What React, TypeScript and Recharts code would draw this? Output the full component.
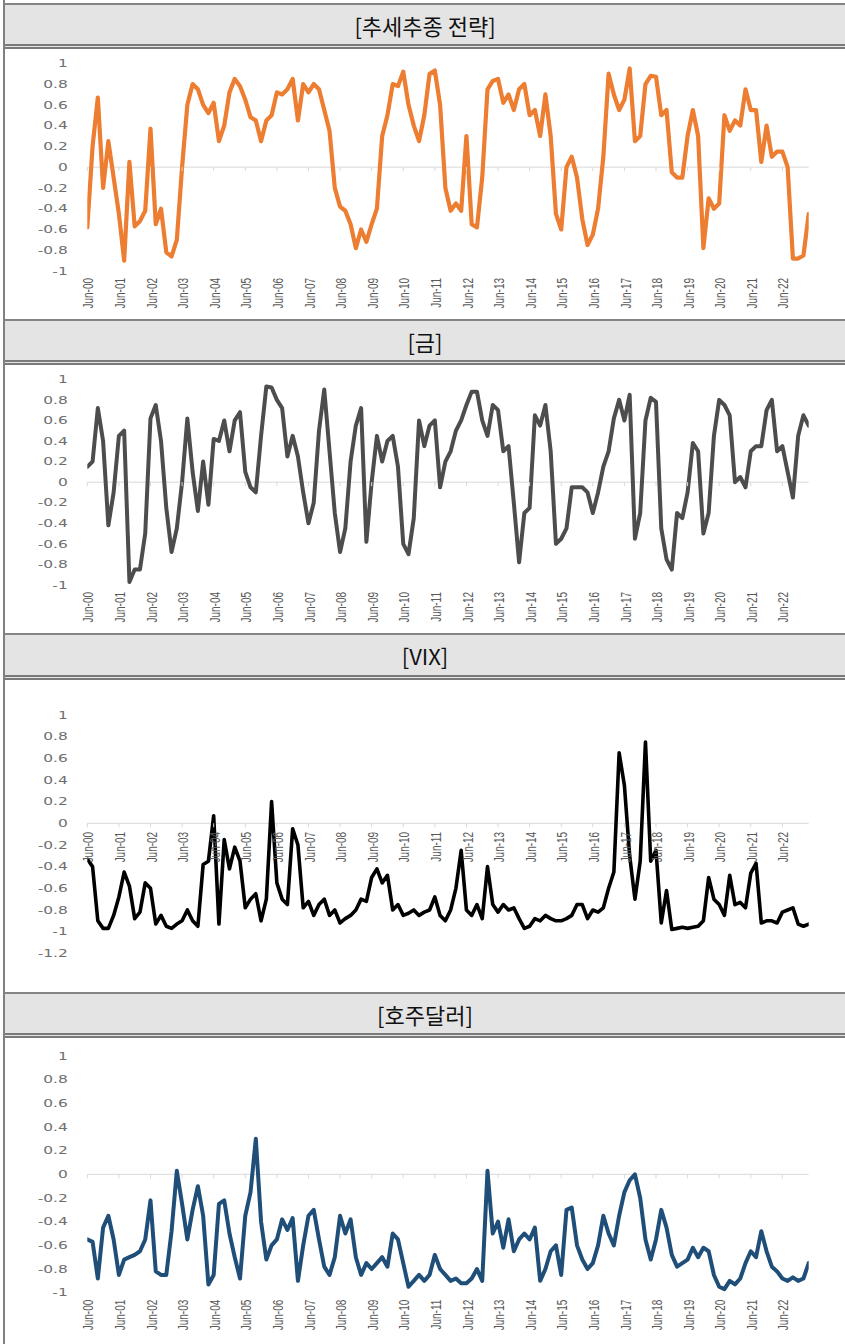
import React from 'react';
import { LineChart, Line, XAxis, YAxis, ReferenceLine } from 'recharts';

const TICK_LABELS = ['Jun-00','Jun-01','Jun-02','Jun-03','Jun-04','Jun-05','Jun-06','Jun-07','Jun-08','Jun-09','Jun-10','Jun-11','Jun-12','Jun-13','Jun-14','Jun-15','Jun-16','Jun-17','Jun-18','Jun-19','Jun-20','Jun-21','Jun-22'];
const TICK_MONTHS = TICK_LABELS.map((_, i) => i * 12);
const STEP_MONTHS = 2;
const LAST_MONTH = 274;

const trend = [
  -0.58,0.2,0.67,-0.2,0.25,-0.1,-0.45,-0.9,0.05,-0.57,
  -0.52,-0.42,0.37,-0.55,-0.4,-0.82,-0.86,-0.7,0.0,0.6,
  0.8,0.75,0.6,0.52,0.62,0.25,0.4,0.72,0.85,0.78,
  0.65,0.48,0.45,0.25,0.45,0.5,0.72,0.7,0.75,0.85,
  0.45,0.8,0.72,0.8,0.75,0.55,0.35,-0.2,-0.38,-0.42,
  -0.55,-0.78,-0.6,-0.72,-0.55,-0.4,0.3,0.5,0.8,0.78,
  0.92,0.6,0.4,0.25,0.5,0.9,0.93,0.6,-0.2,-0.42,
  -0.35,-0.42,0.3,-0.55,-0.58,-0.1,0.75,0.83,0.85,0.62,
  0.7,0.55,0.75,0.8,0.5,0.55,0.3,0.7,0.3,-0.45,
  -0.6,0.0,0.1,-0.1,-0.5,-0.75,-0.65,-0.4,0.1,0.9,
  0.7,0.55,0.65,0.95,0.25,0.3,0.8,0.88,0.87,0.5,
  0.55,-0.05,-0.1,-0.1,0.3,0.55,0.3,-0.78,-0.3,-0.4,
  -0.35,0.5,0.35,0.45,0.4,0.75,0.55,0.55,0.05,0.4,
  0.1,0.15,0.15,0.0,-0.88,-0.88,-0.85,-0.45,
];

const gold = [
  0.15,0.2,0.72,0.4,-0.42,-0.1,0.45,0.5,-0.97,-0.85,
  -0.85,-0.5,0.62,0.75,0.4,-0.25,-0.68,-0.45,0.0,0.62,
  0.1,-0.28,0.2,-0.22,0.42,0.4,0.6,0.3,0.6,0.68,
  0.1,-0.05,-0.1,0.45,0.93,0.92,0.8,0.72,0.25,0.45,
  0.25,-0.1,-0.4,-0.2,0.5,0.9,0.3,-0.3,-0.68,-0.45,
  0.2,0.55,0.72,-0.58,0.0,0.45,0.2,0.4,0.45,0.15,
  -0.6,-0.7,-0.35,0.6,0.35,0.55,0.6,-0.05,0.2,0.3,
  0.5,0.6,0.75,0.88,0.88,0.6,0.45,0.75,0.7,0.3,
  0.35,-0.2,-0.78,-0.3,-0.25,0.65,0.55,0.75,0.3,-0.6,
  -0.55,-0.45,-0.05,-0.05,-0.05,-0.1,-0.3,-0.1,0.15,0.3,
  0.62,0.8,0.6,0.85,-0.55,-0.3,0.6,0.82,0.78,-0.45,
  -0.75,-0.85,-0.3,-0.35,-0.1,0.38,0.3,-0.5,-0.3,0.45,
  0.8,0.75,0.65,0.0,0.05,-0.05,0.3,0.35,0.35,0.7,
  0.8,0.3,0.35,0.1,-0.15,0.45,0.65,0.55,
];

const vix = [
  -0.33,-0.4,-0.9,-0.97,-0.97,-0.85,-0.68,-0.45,-0.58,-0.88,
  -0.82,-0.55,-0.6,-0.93,-0.85,-0.95,-0.97,-0.93,-0.9,-0.8,
  -0.9,-0.95,-0.38,-0.35,0.07,-0.93,-0.15,-0.42,-0.22,-0.35,
  -0.78,-0.7,-0.65,-0.9,-0.7,0.2,-0.55,-0.7,-0.75,-0.05,
  -0.2,-0.78,-0.72,-0.85,-0.75,-0.7,-0.85,-0.8,-0.92,-0.88,
  -0.85,-0.8,-0.7,-0.72,-0.5,-0.42,-0.55,-0.48,-0.8,-0.75,
  -0.85,-0.83,-0.8,-0.85,-0.82,-0.8,-0.68,-0.85,-0.9,-0.8,
  -0.6,-0.25,-0.8,-0.85,-0.75,-0.88,-0.4,-0.75,-0.82,-0.75,
  -0.8,-0.78,-0.88,-0.97,-0.95,-0.88,-0.9,-0.85,-0.88,-0.9,
  -0.9,-0.88,-0.85,-0.75,-0.75,-0.88,-0.8,-0.82,-0.78,-0.6,
  -0.45,0.65,0.35,-0.3,-0.7,-0.35,0.75,-0.35,-0.25,-0.92,
  -0.62,-0.98,-0.97,-0.96,-0.97,-0.96,-0.95,-0.9,-0.5,-0.7,
  -0.75,-0.85,-0.48,-0.75,-0.73,-0.78,-0.46,-0.37,-0.92,-0.9,
  -0.9,-0.92,-0.82,-0.8,-0.78,-0.93,-0.95,-0.93,
];

const aud = [
  -0.55,-0.57,-0.88,-0.45,-0.35,-0.55,-0.85,-0.72,-0.7,-0.68,
  -0.65,-0.55,-0.22,-0.82,-0.85,-0.85,-0.48,0.03,-0.25,-0.55,
  -0.3,-0.1,-0.35,-0.93,-0.85,-0.25,-0.22,-0.5,-0.7,-0.88,
  -0.35,-0.15,0.3,-0.4,-0.72,-0.6,-0.55,-0.38,-0.47,-0.37,
  -0.9,-0.6,-0.35,-0.3,-0.55,-0.78,-0.85,-0.7,-0.35,-0.5,
  -0.38,-0.7,-0.85,-0.75,-0.8,-0.75,-0.7,-0.78,-0.5,-0.55,
  -0.75,-0.95,-0.9,-0.85,-0.9,-0.85,-0.68,-0.8,-0.85,-0.9,
  -0.88,-0.92,-0.92,-0.88,-0.8,-0.9,0.03,-0.5,-0.4,-0.62,
  -0.38,-0.65,-0.55,-0.5,-0.55,-0.45,-0.9,-0.8,-0.65,-0.6,
  -0.85,-0.3,-0.28,-0.6,-0.72,-0.8,-0.75,-0.6,-0.35,-0.5,
  -0.6,-0.35,-0.15,-0.05,0.0,-0.2,-0.55,-0.72,-0.55,-0.3,
  -0.45,-0.68,-0.78,-0.75,-0.72,-0.62,-0.7,-0.62,-0.65,-0.85,
  -0.95,-0.97,-0.9,-0.93,-0.88,-0.75,-0.65,-0.7,-0.48,-0.65,
  -0.78,-0.82,-0.88,-0.9,-0.87,-0.9,-0.88,-0.75,
];

const Y_TICKS_STD = [1, 0.8, 0.6, 0.4, 0.2, 0, -0.2, -0.4, -0.6, -0.8, -1];
const Y_TICKS_VIX = [1, 0.8, 0.6, 0.4, 0.2, 0, -0.2, -0.4, -0.6, -0.8, -1, -1.2];

const PANELS = [
  { title: '[추세추종 전략]', values: trend, color: '#ED7D31', width: 4.2, headerTop: 3, headerH: 46, chartTop: 49, chartH: 269, plotTop: 63.3, plotH: 207.7, yMin: -1, yMax: 1, yTicks: Y_TICKS_STD, labelsAtZero: false },
  { title: '[금]', values: gold, color: '#4D4D4D', width: 4.0, headerTop: 319, headerH: 46, chartTop: 365, chartH: 268, plotTop: 379.3, plotH: 205.7, yMin: -1, yMax: 1, yTicks: Y_TICKS_STD, labelsAtZero: false },
  { title: '[VIX]', values: vix, color: '#000000', width: 3.6, headerTop: 633, headerH: 47, chartTop: 680, chartH: 311, plotTop: 715, plotH: 238.3, yMin: -1.2, yMax: 1, yTicks: Y_TICKS_VIX, labelsAtZero: true },
  { title: '[호주달러]', values: aud, color: '#1F4E79', width: 4.0, headerTop: 992, headerH: 46, chartTop: 1038, chartH: 306, plotTop: 1056, plotH: 236.7, yMin: -1, yMax: 1, yTicks: Y_TICKS_STD, labelsAtZero: false },
];

const PLOT_LEFT = 87.3;
const PLOT_RIGHT = 808.7;
const PAGE_W = 845;

function makeXTick(zeroOffset: number, labelsAtZero: boolean) {
  return (props: any) => {
    const { x, y, payload } = props;
    const zeroY = y - zeroOffset;
    const labelY = labelsAtZero ? zeroY + 8.5 : y + 7;
    const idx = TICK_MONTHS.indexOf(payload.value);
    return (
      <g>
        <line x1={x} x2={x} y1={zeroY} y2={zeroY + 4} stroke="#d9d9d9" strokeWidth={1} />
        <text
          transform={`translate(${x + 1.5},${labelY}) scale(1.4,1) rotate(-90)`}
          textAnchor="end"
          dominantBaseline="central"
          fontSize={10}
          fontFamily="'Liberation Sans', Arial, sans-serif"
          fill="#595959"
        >
          {idx >= 0 ? TICK_LABELS[idx] : ''}
        </text>
      </g>
    );
  };
}

const YTick = (props: any) => {
  const { x, y, payload } = props;
  return (
    <text
      transform={`translate(${x},${y}) scale(1.4,1)`}
      textAnchor="end"
      dominantBaseline="central"
      fontSize={11}
      fontFamily="'DejaVu Sans', sans-serif"
      fill="#6e6e6e"
    >
      {String(payload.value)}
    </text>
  );
};

function Panel(p: typeof PANELS[number]) {
  const data = p.values.map((v, i) => ({ m: i * STEP_MONTHS, v }));
  const marginTop = p.plotTop - p.chartTop;
  const xAxisH = p.chartH - marginTop - p.plotH;
  const zeroOffset = (p.plotH * (0 - p.yMin)) / (p.yMax - p.yMin);
  return (
    <>
      <div
        style={{
          position: 'absolute',
          left: 5,
          top: p.headerTop,
          width: PAGE_W - 5,
          height: p.headerH,
          boxSizing: 'border-box',
          background: '#e4e4e4',
          borderTop: '2px solid #858585',
          borderBottom: '5px double #7a7a7a',
          display: 'flex',
          alignItems: 'center',
          justifyContent: 'center',
          fontFamily: "'Noto Sans CJK KR', sans-serif",
          fontSize: 22,
          color: '#111',
        }}
      >
        {p.title}
      </div>
      <div style={{ position: 'absolute', left: 0, top: p.chartTop }}>
        <LineChart
          width={PAGE_W}
          height={p.chartH}
          data={data}
          margin={{ top: marginTop, right: PAGE_W - PLOT_RIGHT, bottom: 0, left: 0 }}
        >
          <XAxis
            dataKey="m"
            type="number"
            domain={[0, LAST_MONTH]}
            ticks={TICK_MONTHS}
            interval={0}
            axisLine={false}
            tickLine={false}
            tickSize={0}
            tickMargin={0}
            height={xAxisH}
            tick={makeXTick(zeroOffset, p.labelsAtZero)}
            allowDataOverflow
          />
          <YAxis
            type="number"
            domain={[p.yMin, p.yMax]}
            ticks={p.yTicks}
            interval={0}
            axisLine={false}
            tickLine={false}
            tickSize={0}
            tickMargin={19.6}
            width={PLOT_LEFT}
            tick={<YTick />}
            allowDataOverflow
          />
          <ReferenceLine y={0} stroke="#d9d9d9" strokeWidth={1} />
          <Line
            type="linear"
            dataKey="v"
            stroke={p.color}
            strokeWidth={p.width}
            strokeLinejoin="round"
            strokeLinecap="round"
            dot={false}
            activeDot={false}
            isAnimationActive={false}
          />
        </LineChart>
      </div>
    </>
  );
}

export default function App() {
  return (
    <div style={{ position: 'absolute', left: 0, top: 0, width: PAGE_W, height: 1344, background: '#fff', overflow: 'hidden' }}>
      <div style={{ position: 'absolute', left: 3, top: 0, width: 2, height: 1344, background: '#808080' }} />
      {PANELS.map((p) => (
        <Panel key={p.title} {...p} />
      ))}
    </div>
  );
}
